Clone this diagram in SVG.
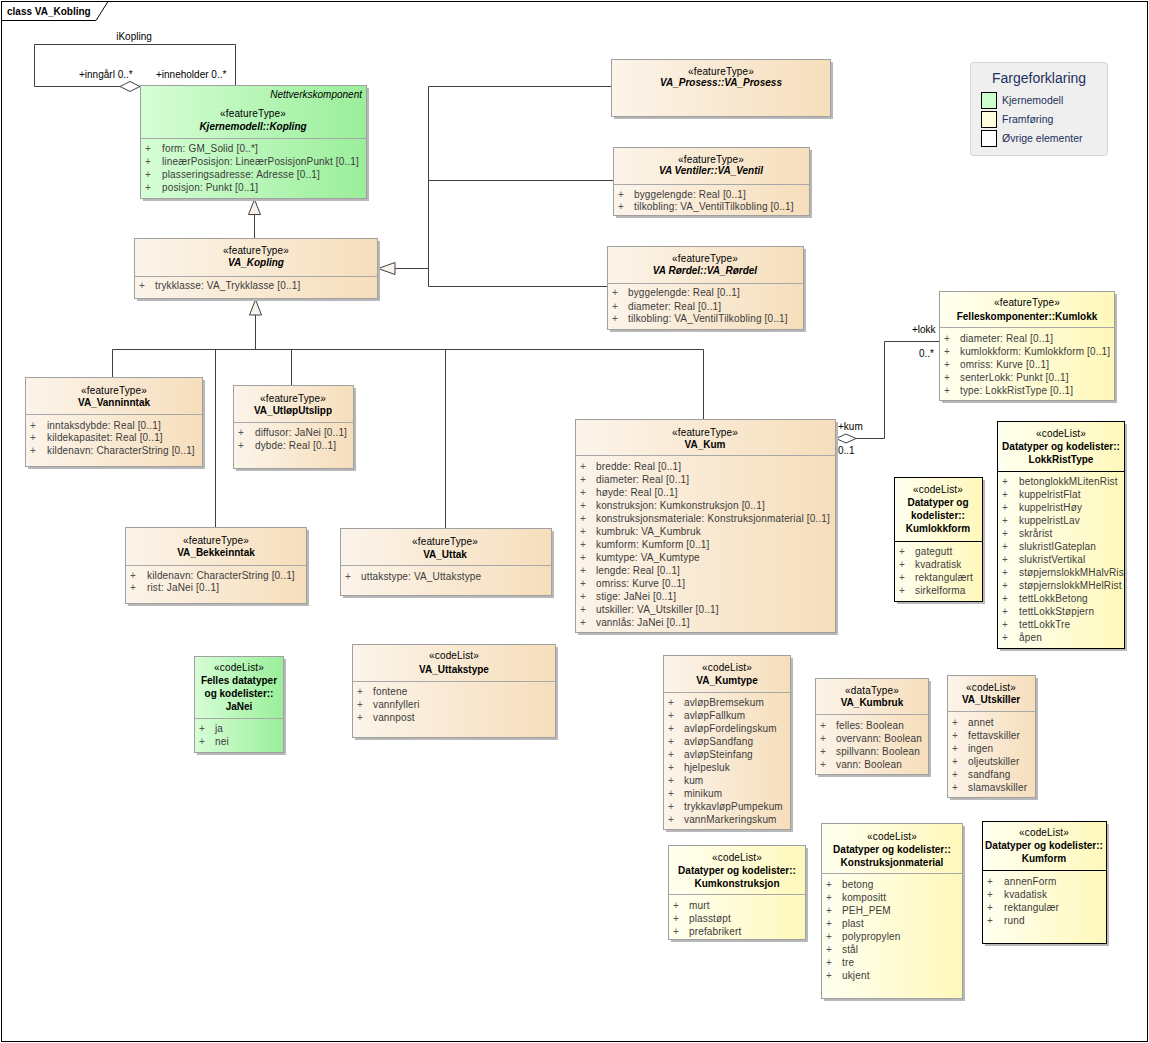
<svg xmlns="http://www.w3.org/2000/svg" width="1149" height="1043" viewBox="0 0 1149 1043">
<style>
text{font-family:"Liberation Sans",Arial,sans-serif;font-size:10px;fill:#000}
.c{text-anchor:middle;letter-spacing:.15px}
.b{font-weight:bold;letter-spacing:0}
.i{font-style:italic}
.a{fill:#3b3b3b;letter-spacing:.15px}
.p{fill:#555}
.bx{stroke:#a0a0a0;stroke-width:1}
.bk{stroke:#000;stroke-width:1}
.sh{fill:#b8b8b8}
.dv{stroke:#a8a8a8;stroke-width:1}
.cn{fill:none;stroke:#404040;stroke-width:1}
.tri{fill:#f8f2ea;stroke:#404040;stroke-width:1}
.dia{fill:#fff;stroke:#404040;stroke-width:1}
.lg{fill:#23305e}
</style>
<defs>
<linearGradient id="gO" x1="0" y1="0" x2="1" y2="0"><stop offset="0" stop-color="#fcf4ea"/><stop offset="1" stop-color="#f6debb"/></linearGradient>
<linearGradient id="gG" x1="0" y1="0" x2="1" y2="0"><stop offset="0" stop-color="#d6fed6"/><stop offset="1" stop-color="#9aee9a"/></linearGradient>
<linearGradient id="gY" x1="0" y1="0" x2="1" y2="0"><stop offset="0" stop-color="#fffff0"/><stop offset="1" stop-color="#fff8bb"/></linearGradient>
<clipPath id="clipLRT"><rect x="997" y="421" width="127.5" height="228"/></clipPath>
</defs>
<rect width="1149" height="1043" fill="#fff"/>
<g id="frame">
<rect x="1.5" y="1.5" width="1146" height="1040" fill="none" stroke="#000"/>
<path d="M1.5 20.5 H96 L108 1.5" fill="none" stroke="#000"/>
<text class="b" x="7" y="15">class VA_Kobling</text>
</g>
<g id="connectors">
<path class="cn" d="M235.5 85 V44.5 H34.5 V86.5 H120"/>
<polygon class="dia" points="120,86.5 130,81.5 140,86.5 130,91.5"/>
<text x="134" y="40" text-anchor="middle">iKopling</text>
<text x="79" y="78">+inngårl 0..*</text>
<text x="156" y="78">+inneholder 0..*</text>
<path class="cn" d="M254.5 238 V214.5"/>
<polygon class="tri" points="254.5,199.5 248.5,214.5 260.5,214.5"/>
<path class="cn" d="M395 268.5 H428.5 M428.5 86.5 V286.5 M428.5 86.5 H611 M428.5 180.5 H613 M428.5 286.5 H607"/>
<polygon class="tri" points="378,268.5 395,262.5 395,274.5"/>
<path class="cn" d="M255.5 315 V349.5 M112.5 349.5 H703.5 M112.5 349.5 V377 M215.5 349.5 V527 M291.5 349.5 V385 M445.5 349.5 V528 M703.5 349.5 V419"/>
<polygon class="tri" points="255.5,299.5 249.5,315 261.5,315"/>
<path class="cn" d="M856 438.5 H884.5 V341.5 H939"/>
<polygon class="dia" points="836,438.5 846,434 856,438.5 846,443"/>
<text x="838" y="430">+kum</text>
<text x="838" y="454">0..1</text>
<text x="912" y="333">+lokk</text>
<text x="919" y="357">0..*</text>
</g>
<g id="kopling">
<rect class="sh" x="143" y="88" width="226" height="113"/>
<rect class="bx" x="140.5" y="85.5" width="226" height="113" fill="url(#gG)"/>
<text class="i" x="362" y="98" text-anchor="end">Nettverkskomponent</text>
<text class="c" x="253" y="117">«featureType»</text>
<text class="c b i" x="253" y="130">Kjernemodell::Kopling</text>
<line class="dv" x1="140.5" y1="138.5" x2="366.5" y2="138.5"/>
<text class="p" x="145" y="152">+</text><text class="a" x="162" y="152">form: GM_Solid [0..*]</text>
<text class="p" x="145" y="165">+</text><text class="a" x="162" y="165">lineærPosisjon: LineærPosisjonPunkt [0..1]</text>
<text class="p" x="145" y="178">+</text><text class="a" x="162" y="178">plasseringsadresse: Adresse [0..1]</text>
<text class="p" x="145" y="191">+</text><text class="a" x="162" y="191">posisjon: Punkt [0..1]</text>
</g>
<g id="va_kopling">
<rect class="sh" x="137" y="241" width="243" height="60"/>
<rect class="bx" x="134.5" y="238.5" width="243" height="60" fill="url(#gO)"/>
<text class="c" x="256" y="253.5">«featureType»</text>
<text class="c b i" x="256" y="266">VA_Kopling</text>
<line class="dv" x1="134.5" y1="276.5" x2="377.5" y2="276.5"/>
<text class="p" x="139" y="289">+</text><text class="a" x="155" y="289">trykklasse: VA_Trykklasse [0..1]</text>
</g>
<g id="prosess">
<rect class="sh" x="614" y="62" width="219" height="57"/>
<rect class="bx" x="611.5" y="59.5" width="219" height="57" fill="url(#gO)"/>
<text class="c" x="721" y="74.5">«featureType»</text>
<text class="c b i" x="721" y="86">VA_Prosess::VA_Prosess</text>
</g>
<g id="ventil">
<rect class="sh" x="616" y="150" width="196" height="68"/>
<rect class="bx" x="613.5" y="147.5" width="196" height="68" fill="url(#gO)"/>
<text class="c" x="711" y="162.5">«featureType»</text>
<text class="c b i" x="711" y="174">VA Ventiler::VA_Ventil</text>
<line class="dv" x1="613.5" y1="184.5" x2="809.5" y2="184.5"/>
<text class="p" x="618" y="197.5">+</text><text class="a" x="634" y="197.5">byggelengde: Real [0..1]</text>
<text class="p" x="618" y="210">+</text><text class="a" x="634" y="210">tilkobling: VA_VentilTilkobling [0..1]</text>
</g>
<g id="rordel">
<rect class="sh" x="610" y="249" width="196" height="83"/>
<rect class="bx" x="607.5" y="246.5" width="196" height="83" fill="url(#gO)"/>
<text class="c" x="705" y="262">«featureType»</text>
<text class="c b i" x="705" y="273.5">VA Rørdel::VA_Rørdel</text>
<line class="dv" x1="607.5" y1="283.5" x2="803.5" y2="283.5"/>
<text class="p" x="612" y="296">+</text><text class="a" x="628" y="296">byggelengde: Real [0..1]</text>
<text class="p" x="612" y="309.5">+</text><text class="a" x="628" y="309.5">diameter: Real [0..1]</text>
<text class="p" x="612" y="322">+</text><text class="a" x="628" y="322">tilkobling: VA_VentilTilkobling [0..1]</text>
</g>
<g id="vanninntak">
<rect class="sh" x="28" y="380" width="177" height="89"/>
<rect class="bx" x="25.5" y="377.5" width="177" height="89" fill="url(#gO)"/>
<text class="c" x="114" y="393.5">«featureType»</text>
<text class="c b" x="114" y="406">VA_Vanninntak</text>
<line class="dv" x1="25.5" y1="414.5" x2="202.5" y2="414.5"/>
<text class="p" x="30" y="428.5">+</text><text class="a" x="47" y="428.5">inntaksdybde: Real [0..1]</text>
<text class="p" x="30" y="441">+</text><text class="a" x="47" y="441">kildekapasitet: Real [0..1]</text>
<text class="p" x="30" y="454">+</text><text class="a" x="47" y="454">kildenavn: CharacterString [0..1]</text>
</g>
<g id="utlop">
<rect class="sh" x="236" y="388" width="120" height="83"/>
<rect class="bx" x="233.5" y="385.5" width="120" height="83" fill="url(#gO)"/>
<text class="c" x="293" y="402">«featureType»</text>
<text class="c b" x="293" y="414">VA_UtløpUtslipp</text>
<line class="dv" x1="233.5" y1="422.5" x2="353.5" y2="422.5"/>
<text class="p" x="238" y="436">+</text><text class="a" x="255" y="436">diffusor: JaNei [0..1]</text>
<text class="p" x="238" y="449">+</text><text class="a" x="255" y="449">dybde: Real [0..1]</text>
</g>
<g id="bekkeinntak">
<rect class="sh" x="128" y="530" width="181" height="76"/>
<rect class="bx" x="125.5" y="527.5" width="181" height="76" fill="url(#gO)"/>
<text class="c" x="216" y="543.5">«featureType»</text>
<text class="c b" x="216" y="556">VA_Bekkeinntak</text>
<line class="dv" x1="125.5" y1="565.5" x2="306.5" y2="565.5"/>
<text class="p" x="130" y="578.5">+</text><text class="a" x="147" y="578.5">kildenavn: CharacterString [0..1]</text>
<text class="p" x="130" y="591">+</text><text class="a" x="147" y="591">rist: JaNei [0..1]</text>
</g>
<g id="uttak">
<rect class="sh" x="343" y="531" width="211" height="67"/>
<rect class="bx" x="340.5" y="528.5" width="211" height="67" fill="url(#gO)"/>
<text class="c" x="445" y="545">«featureType»</text>
<text class="c b" x="445" y="557.5">VA_Uttak</text>
<line class="dv" x1="340.5" y1="565.5" x2="551.5" y2="565.5"/>
<text class="p" x="345" y="579.5">+</text><text class="a" x="361" y="579.5">uttakstype: VA_Uttakstype</text>
</g>
<g id="kum">
<rect class="sh" x="578" y="422" width="260" height="213"/>
<rect class="bx" x="575.5" y="419.5" width="260" height="213" fill="url(#gO)"/>
<text class="c" x="705" y="436">«featureType»</text>
<text class="c b" x="705" y="447.5">VA_Kum</text>
<line class="dv" x1="575.5" y1="455.5" x2="835.5" y2="455.5"/>
<text class="p" x="580" y="470">+</text><text class="a" x="596" y="470">bredde: Real [0..1]</text>
<text class="p" x="580" y="483">+</text><text class="a" x="596" y="483">diameter: Real [0..1]</text>
<text class="p" x="580" y="496">+</text><text class="a" x="596" y="496">høyde: Real [0..1]</text>
<text class="p" x="580" y="509">+</text><text class="a" x="596" y="509">konstruksjon: Kumkonstruksjon [0..1]</text>
<text class="p" x="580" y="522">+</text><text class="a" x="596" y="522">konstruksjonsmateriale: Konstruksjonmaterial [0..1]</text>
<text class="p" x="580" y="535">+</text><text class="a" x="596" y="535">kumbruk: VA_Kumbruk</text>
<text class="p" x="580" y="548">+</text><text class="a" x="596" y="548">kumform: Kumform [0..1]</text>
<text class="p" x="580" y="561">+</text><text class="a" x="596" y="561">kumtype: VA_Kumtype</text>
<text class="p" x="580" y="574">+</text><text class="a" x="596" y="574">lengde: Real [0..1]</text>
<text class="p" x="580" y="587">+</text><text class="a" x="596" y="587">omriss: Kurve [0..1]</text>
<text class="p" x="580" y="600">+</text><text class="a" x="596" y="600">stige: JaNei [0..1]</text>
<text class="p" x="580" y="613">+</text><text class="a" x="596" y="613">utskiller: VA_Utskiller [0..1]</text>
<text class="p" x="580" y="626">+</text><text class="a" x="596" y="626">vannlås: JaNei [0..1]</text>
</g>
<g id="kumlokk">
<rect class="sh" x="942" y="294" width="175" height="109"/>
<rect class="bx" x="939.5" y="291.5" width="175" height="109" fill="url(#gY)"/>
<text class="c" x="1027" y="305.5">«featureType»</text>
<text class="c b" x="1027" y="320">Felleskomponenter::Kumlokk</text>
<line class="dv" x1="939.5" y1="327.5" x2="1114.5" y2="327.5"/>
<text class="p" x="944" y="341.5">+</text><text class="a" x="960" y="341.5">diameter: Real [0..1]</text>
<text class="p" x="944" y="354.5">+</text><text class="a" x="960" y="354.5">kumlokkform: Kumlokkform [0..1]</text>
<text class="p" x="944" y="367.5">+</text><text class="a" x="960" y="367.5">omriss: Kurve [0..1]</text>
<text class="p" x="944" y="380.5">+</text><text class="a" x="960" y="380.5">senterLokk: Punkt [0..1]</text>
<text class="p" x="944" y="393.5">+</text><text class="a" x="960" y="393.5">type: LokkRistType [0..1]</text>
</g>
<g id="kumlokkform">
<rect class="sh" x="897" y="480" width="88" height="124"/>
<rect class="bk" x="894.5" y="477.5" width="88" height="124" fill="url(#gY)"/>
<text class="c" x="938" y="493">«codeList»</text>
<text class="c b" x="938" y="506">Datatyper og</text>
<text class="c b" x="938" y="519">kodelister::</text>
<text class="c b" x="938" y="532">Kumlokkform</text>
<line x1="894.5" y1="541.5" x2="982.5" y2="541.5" stroke="#000"/>
<text class="p" x="899" y="554.5">+</text><text class="a" x="915" y="554.5">gategutt</text>
<text class="p" x="899" y="567.5">+</text><text class="a" x="915" y="567.5">kvadratisk</text>
<text class="p" x="899" y="580.5">+</text><text class="a" x="915" y="580.5">rektangulært</text>
<text class="p" x="899" y="593.5">+</text><text class="a" x="915" y="593.5">sirkelforma</text>
</g>
<g id="lokkristtype">
<rect class="sh" x="1000" y="424" width="127" height="227"/>
<rect class="bk" x="997.5" y="421.5" width="127" height="227" fill="url(#gY)"/>
<text class="c" x="1061" y="437">«codeList»</text>
<text class="c b" x="1061" y="450">Datatyper og kodelister::</text>
<text class="c b" x="1061" y="463">LokkRistType</text>
<line x1="997.5" y1="471.5" x2="1124.5" y2="471.5" stroke="#000"/>
<g clip-path="url(#clipLRT)">
<text class="p" x="1002" y="485">+</text><text class="a" x="1019" y="485">betonglokkMLitenRist</text>
<text class="p" x="1002" y="498">+</text><text class="a" x="1019" y="498">kuppelristFlat</text>
<text class="p" x="1002" y="511">+</text><text class="a" x="1019" y="511">kuppelristHøy</text>
<text class="p" x="1002" y="524">+</text><text class="a" x="1019" y="524">kuppelristLav</text>
<text class="p" x="1002" y="537">+</text><text class="a" x="1019" y="537">skrårist</text>
<text class="p" x="1002" y="550">+</text><text class="a" x="1019" y="550">slukristIGateplan</text>
<text class="p" x="1002" y="563">+</text><text class="a" x="1019" y="563">slukristVertikal</text>
<text class="p" x="1002" y="576">+</text><text class="a" x="1019" y="576">støpjernslokkMHalvRist</text>
<text class="p" x="1002" y="589">+</text><text class="a" x="1019" y="589">støpjernslokkMHelRist</text>
<text class="p" x="1002" y="602">+</text><text class="a" x="1019" y="602">tettLokkBetong</text>
<text class="p" x="1002" y="615">+</text><text class="a" x="1019" y="615">tettLokkStøpjern</text>
<text class="p" x="1002" y="628">+</text><text class="a" x="1019" y="628">tettLokkTre</text>
<text class="p" x="1002" y="641">+</text><text class="a" x="1019" y="641">åpen</text>
</g>
<line x1="1124.5" y1="421.5" x2="1124.5" y2="648.5" stroke="#000"/>
</g>
<g id="janei">
<rect class="sh" x="197" y="659" width="89" height="96"/>
<rect class="bx" x="194.5" y="656.5" width="89" height="96" fill="url(#gG)"/>
<text class="c" x="239" y="671">«codeList»</text>
<text class="c b" x="239" y="684">Felles datatyper</text>
<text class="c b" x="239" y="697">og kodelister::</text>
<text class="c b" x="239" y="710">JaNei</text>
<line class="dv" x1="194.5" y1="718.5" x2="283.5" y2="718.5"/>
<text class="p" x="199" y="732">+</text><text class="a" x="215" y="732">ja</text>
<text class="p" x="199" y="745">+</text><text class="a" x="215" y="745">nei</text>
</g>
<g id="uttakstype">
<rect class="sh" x="355" y="647" width="203" height="93"/>
<rect class="bx" x="352.5" y="644.5" width="203" height="93" fill="url(#gO)"/>
<text class="c" x="454" y="659">«codeList»</text>
<text class="c b" x="454" y="672.5">VA_Uttakstype</text>
<line class="dv" x1="352.5" y1="681.5" x2="555.5" y2="681.5"/>
<text class="p" x="357" y="694.5">+</text><text class="a" x="373" y="694.5">fontene</text>
<text class="p" x="357" y="707.5">+</text><text class="a" x="373" y="707.5">vannfylleri</text>
<text class="p" x="357" y="720.5">+</text><text class="a" x="373" y="720.5">vannpost</text>
</g>
<g id="kumtype">
<rect class="sh" x="666" y="658" width="127" height="174"/>
<rect class="bx" x="663.5" y="655.5" width="127" height="174" fill="url(#gO)"/>
<text class="c" x="727" y="670.5">«codeList»</text>
<text class="c b" x="727" y="683.5">VA_Kumtype</text>
<line class="dv" x1="663.5" y1="692.5" x2="790.5" y2="692.5"/>
<text class="p" x="668" y="705.5">+</text><text class="a" x="684" y="705.5">avløpBremsekum</text>
<text class="p" x="668" y="718.5">+</text><text class="a" x="684" y="718.5">avløpFallkum</text>
<text class="p" x="668" y="731.5">+</text><text class="a" x="684" y="731.5">avløpFordelingskum</text>
<text class="p" x="668" y="744.5">+</text><text class="a" x="684" y="744.5">avløpSandfang</text>
<text class="p" x="668" y="757.5">+</text><text class="a" x="684" y="757.5">avløpSteinfang</text>
<text class="p" x="668" y="770.5">+</text><text class="a" x="684" y="770.5">hjelpesluk</text>
<text class="p" x="668" y="783.5">+</text><text class="a" x="684" y="783.5">kum</text>
<text class="p" x="668" y="796.5">+</text><text class="a" x="684" y="796.5">minikum</text>
<text class="p" x="668" y="809.5">+</text><text class="a" x="684" y="809.5">trykkavløpPumpekum</text>
<text class="p" x="668" y="822.5">+</text><text class="a" x="684" y="822.5">vannMarkeringskum</text>
</g>
<g id="kumbruk">
<rect class="sh" x="818" y="681" width="113" height="96"/>
<rect class="bx" x="815.5" y="678.5" width="113" height="96" fill="url(#gO)"/>
<text class="c" x="872" y="693.5">«dataType»</text>
<text class="c b" x="872" y="706">VA_Kumbruk</text>
<line class="dv" x1="815.5" y1="714.5" x2="928.5" y2="714.5"/>
<text class="p" x="820" y="728.5">+</text><text class="a" x="836" y="728.5">felles: Boolean</text>
<text class="p" x="820" y="741.5">+</text><text class="a" x="836" y="741.5">overvann: Boolean</text>
<text class="p" x="820" y="754.5">+</text><text class="a" x="836" y="754.5">spillvann: Boolean</text>
<text class="p" x="820" y="767.5">+</text><text class="a" x="836" y="767.5">vann: Boolean</text>
</g>
<g id="utskiller">
<rect class="sh" x="950" y="678" width="88" height="122"/>
<rect class="bx" x="947.5" y="675.5" width="88" height="122" fill="url(#gO)"/>
<text class="c" x="991" y="690.5">«codeList»</text>
<text class="c b" x="991" y="703">VA_Utskiller</text>
<line class="dv" x1="947.5" y1="711.5" x2="1035.5" y2="711.5"/>
<text class="p" x="952" y="725.5">+</text><text class="a" x="968" y="725.5">annet</text>
<text class="p" x="952" y="738.5">+</text><text class="a" x="968" y="738.5">fettavskiller</text>
<text class="p" x="952" y="751.5">+</text><text class="a" x="968" y="751.5">ingen</text>
<text class="p" x="952" y="764.5">+</text><text class="a" x="968" y="764.5">oljeutskiller</text>
<text class="p" x="952" y="777.5">+</text><text class="a" x="968" y="777.5">sandfang</text>
<text class="p" x="952" y="790.5">+</text><text class="a" x="968" y="790.5">slamavskiller</text>
</g>
<g id="kumkonstruksjon">
<rect class="sh" x="671" y="848" width="137" height="94"/>
<rect class="bx" x="668.5" y="845.5" width="137" height="94" fill="url(#gY)"/>
<text class="c" x="737" y="860.5">«codeList»</text>
<text class="c b" x="737" y="873.5">Datatyper og kodelister::</text>
<text class="c b" x="737" y="886.5">Kumkonstruksjon</text>
<line class="dv" x1="668.5" y1="894.5" x2="805.5" y2="894.5"/>
<text class="p" x="673" y="908.5">+</text><text class="a" x="689" y="908.5">murt</text>
<text class="p" x="673" y="921.5">+</text><text class="a" x="689" y="921.5">plasstøpt</text>
<text class="p" x="673" y="934.5">+</text><text class="a" x="689" y="934.5">prefabrikert</text>
</g>
<g id="konstruksjonmaterial">
<rect class="sh" x="824" y="826" width="141" height="175"/>
<rect class="bx" x="821.5" y="823.5" width="141" height="175" fill="url(#gY)"/>
<text class="c" x="892" y="840">«codeList»</text>
<text class="c b" x="892" y="852.5">Datatyper og kodelister::</text>
<text class="c b" x="892" y="865.5">Konstruksjonmaterial</text>
<line class="dv" x1="821.5" y1="873.5" x2="962.5" y2="873.5"/>
<text class="p" x="826" y="887.5">+</text><text class="a" x="842" y="887.5">betong</text>
<text class="p" x="826" y="900.5">+</text><text class="a" x="842" y="900.5">kompositt</text>
<text class="p" x="826" y="913.5">+</text><text class="a" x="842" y="913.5">PEH_PEM</text>
<text class="p" x="826" y="926.5">+</text><text class="a" x="842" y="926.5">plast</text>
<text class="p" x="826" y="939.5">+</text><text class="a" x="842" y="939.5">polypropylen</text>
<text class="p" x="826" y="952.5">+</text><text class="a" x="842" y="952.5">stål</text>
<text class="p" x="826" y="965.5">+</text><text class="a" x="842" y="965.5">tre</text>
<text class="p" x="826" y="978.5">+</text><text class="a" x="842" y="978.5">ukjent</text>
</g>
<g id="kumform">
<rect class="sh" x="985" y="824" width="124" height="122"/>
<rect class="bk" x="982.5" y="821.5" width="124" height="122" fill="url(#gY)"/>
<text class="c" x="1044" y="835.5">«codeList»</text>
<text class="c b" x="1044" y="849">Datatyper og kodelister::</text>
<text class="c b" x="1044" y="861.5">Kumform</text>
<line x1="982.5" y1="870.5" x2="1106.5" y2="870.5" stroke="#000"/>
<text class="p" x="987" y="884.5">+</text><text class="a" x="1004" y="884.5">annenForm</text>
<text class="p" x="987" y="897.5">+</text><text class="a" x="1004" y="897.5">kvadatisk</text>
<text class="p" x="987" y="910.5">+</text><text class="a" x="1004" y="910.5">rektangulær</text>
<text class="p" x="987" y="923.5">+</text><text class="a" x="1004" y="923.5">rund</text>
</g>
<g id="legend">
<rect x="970.5" y="62.5" width="137" height="93" rx="3" fill="#efefef" stroke="#d4d4d4"/>
<text class="lg" x="1039" y="83" text-anchor="middle" style="font-size:14px">Fargeforklaring</text>
<rect x="981.5" y="92.5" width="15" height="16" fill="#ccffcc" stroke="#000"/>
<rect x="981.5" y="111.5" width="15" height="16" fill="#ffffdd" stroke="#000"/>
<rect x="981.5" y="130.5" width="15" height="16" fill="#ffffff" stroke="#000"/>
<text class="lg" x="1002" y="104" style="font-size:10.5px">Kjernemodell</text>
<text class="lg" x="1002" y="123" style="font-size:10.5px">Framføring</text>
<text class="lg" x="1002" y="142" style="font-size:10.5px">Øvrige elementer</text>
</g>
</svg>
